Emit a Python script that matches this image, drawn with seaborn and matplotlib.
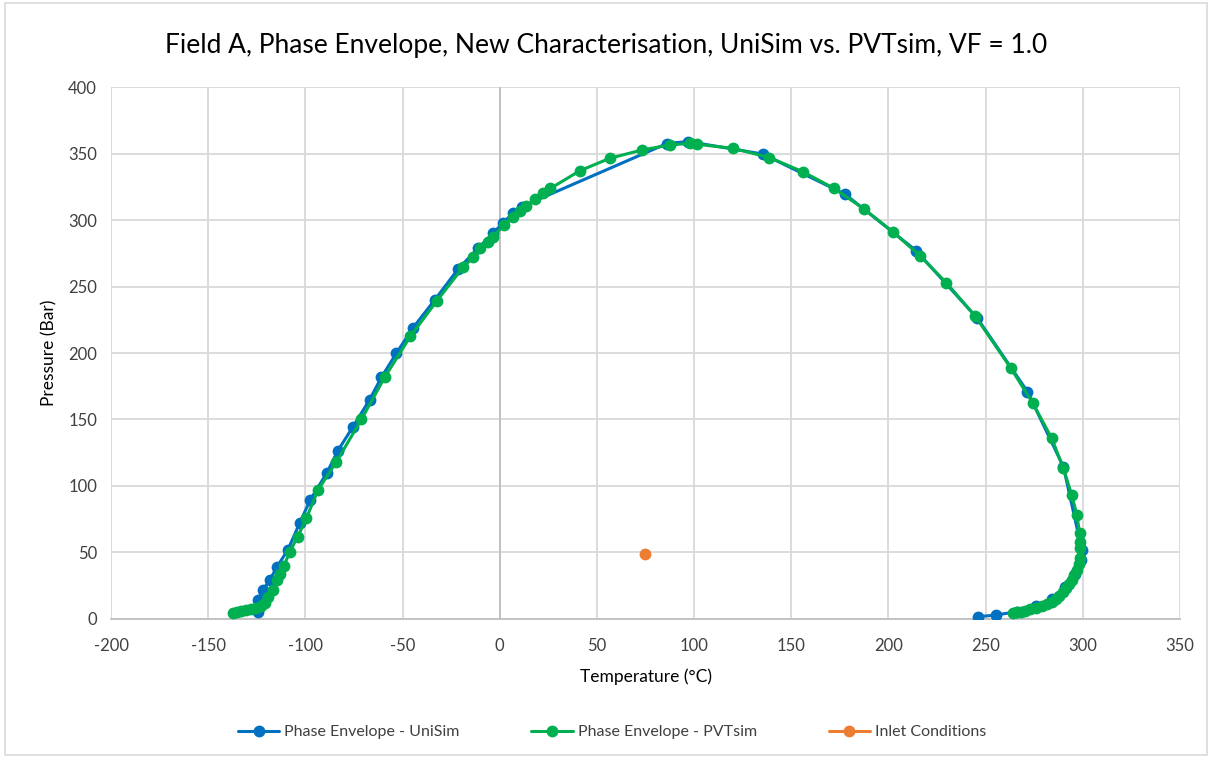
import matplotlib
matplotlib.use("Agg")
import matplotlib.pyplot as plt
import seaborn as sns
import pandas as pd

# UniSim phase envelope (Temperature °C, Pressure bar)
unisim_t = [-124.4, -124.6, -121.9, -118.4, -114.7, -109.0, -103.0, -97.5, -88.9, -83.3,
            -75.5, -66.9, -60.9, -53.2, -44.6, -33.5, -21.5, -11.2, -3.4, 1.7, 6.8, 11.2,
            86.0, 97.0, 135.3, 177.6, 214.2, 245.8, 271.5, 290.0, 299.5, 299.0, 296.0,
            291.0, 284.0, 276.0, 266.0, 255.4, 246.3]
unisim_p = [5.5, 14.0, 21.8, 29.0, 39.0, 52.0, 72.0, 89.5, 110.0, 126.5,
            144.6, 165.0, 181.7, 199.8, 219.0, 239.8, 263.0, 278.7, 290.0, 298.0, 305.0, 310.0,
            357.5, 359.0, 349.6, 319.5, 277.0, 226.0, 171.0, 114.5, 52.0, 44.0, 34.0,
            24.0, 15.0, 9.5, 5.5, 3.0, 1.7]

# PVTsim phase envelope
pvtsim_t = [-137.3, -135.0, -133.0, -130.4, -128.0, -125.5, -123.0, -121.0, -119.3, -116.7,
            -114.7, -113.0, -111.0, -108.0, -103.9, -99.5, -93.5, -84.1, -71.2, -59.2,
            -46.0, -32.3, -18.9, -13.7, -10.3, -6.0, -3.4, 2.0, 6.8, 10.3,
            13.7, 18.0, 22.3, 26.1, 41.2, 56.6, 73.0, 87.5, 97.8, 101.3,
            120.0, 138.7, 155.8, 172.0, 187.4, 202.2, 216.3, 229.7, 244.6, 263.0,
            274.3, 284.0, 290.0, 294.3, 297.0, 298.3, 298.7, 298.7, 298.3, 297.8,
            296.8, 295.5, 294.3, 293.0, 291.5, 290.0, 288.0, 286.0, 284.0, 281.5,
            279.0, 276.0, 273.0, 270.0, 268.0, 266.0, 264.0]
pvtsim_p = [4.7, 5.5, 6.0, 6.8, 7.2, 8.0, 9.5, 12.0, 16.8, 21.8,
            29.0, 34.0, 40.0, 50.6, 62.0, 75.7, 97.0, 118.0, 150.0, 181.7,
            212.5, 239.3, 264.4, 272.0, 278.7, 283.7, 287.5, 296.0, 302.0, 307.0,
            310.5, 315.5, 320.0, 323.8, 337.0, 346.4, 352.6, 356.4, 357.6, 357.0,
            353.9, 347.0, 336.4, 323.8, 308.3, 291.2, 273.0, 252.9, 227.8, 188.5,
            162.2, 135.9, 113.3, 93.2, 78.0, 64.4, 58.0, 53.0, 46.0, 41.0,
            37.0, 33.0, 29.5, 26.0, 23.0, 20.0, 17.5, 15.0, 13.0, 11.5,
            10.0, 8.5, 7.3, 6.3, 5.6, 5.0, 4.5]

# Inlet conditions
inlet_t = [74.5]
inlet_p = [49.0]

title = "Field A, Phase Envelope, New Characterisation, UniSim vs. PVTsim, VF = 1.0"
x_ticks = list(range(-200, 351, 50))
y_ticks = list(range(0, 401, 50))

sns.set_theme(style="white")
plt.rcParams['font.family'] = ['Lato', 'DejaVu Sans']
plt.rcParams['axes.unicode_minus'] = False

BLUE = "#0070C0"
GREEN = "#00B050"
ORANGE = "#ED7D31"
TXT = "#404040"

fig = plt.figure(figsize=(12.12, 7.58), dpi=100)
ax = fig.add_axes([0.0916, 0.1834, 0.8820, 0.7018])

df_u = pd.DataFrame({"T": unisim_t, "P": unisim_p})
df_p = pd.DataFrame({"T": pvtsim_t, "P": pvtsim_p})
df_i = pd.DataFrame({"T": inlet_t, "P": inlet_p})

sns.lineplot(data=df_u, x="T", y="P", sort=False, estimator=None, ax=ax,
             color=BLUE, linewidth=2.2, marker="o", markersize=8.5,
             markeredgewidth=0, label="Phase Envelope - UniSim", zorder=3)
sns.lineplot(data=df_p, x="T", y="P", sort=False, estimator=None, ax=ax,
             color=GREEN, linewidth=2.2, marker="o", markersize=8.5,
             markeredgewidth=0, label="Phase Envelope - PVTsim", zorder=4)
sns.lineplot(data=df_i, x="T", y="P", sort=False, estimator=None, ax=ax,
             color=ORANGE, linewidth=2.2, marker="o", markersize=8.5,
             markeredgewidth=0, label="Inlet Conditions", zorder=5)

ax.set_xlim(-200, 350)
ax.set_ylim(0, 400)
ax.set_xticks(x_ticks)
ax.set_yticks(y_ticks)
ax.grid(True, color="#D9D9D9", linewidth=1.3)
ax.set_axisbelow(True)
ax.axvline(0, color="#BFBFBF", linewidth=1.3, zorder=1)
for s in ["top", "right", "left"]:
    ax.spines[s].set_visible(False)
ax.spines["bottom"].set_color("#BFBFBF")
ax.spines["bottom"].set_linewidth(1.3)
ax.tick_params(axis="x", length=0, labelsize=12, colors=TXT, pad=14)
ax.tick_params(axis="y", length=0, labelsize=12, colors=TXT, pad=10)
ax.set_xlabel("Temperature (°C)", fontsize=12.5, color="black", labelpad=10)
ax.set_ylabel("Pressure (Bar)", fontsize=12.5, color="black", labelpad=8)
fig.text(0.5, 0.940, title, fontsize=19, color="black", ha="center", va="center")

handles, labels = ax.get_legend_handles_labels()
ax.legend_.remove()
leg = fig.legend(handles, labels, loc="center", bbox_to_anchor=(0.505, 0.034), ncol=3,
                 frameon=False, fontsize=11.5, handlelength=2.6, columnspacing=4.5,
                 handletextpad=0.3)
for t in leg.get_texts():
    t.set_color(TXT)

# chart-area border
fig.patches.append(plt.Rectangle((0.004, 0.004), 0.992, 0.992, transform=fig.transFigure,
                                 fill=False, edgecolor="#D9D9D9", linewidth=1.2))

fig.savefig("out.png", dpi=100, facecolor="white")
